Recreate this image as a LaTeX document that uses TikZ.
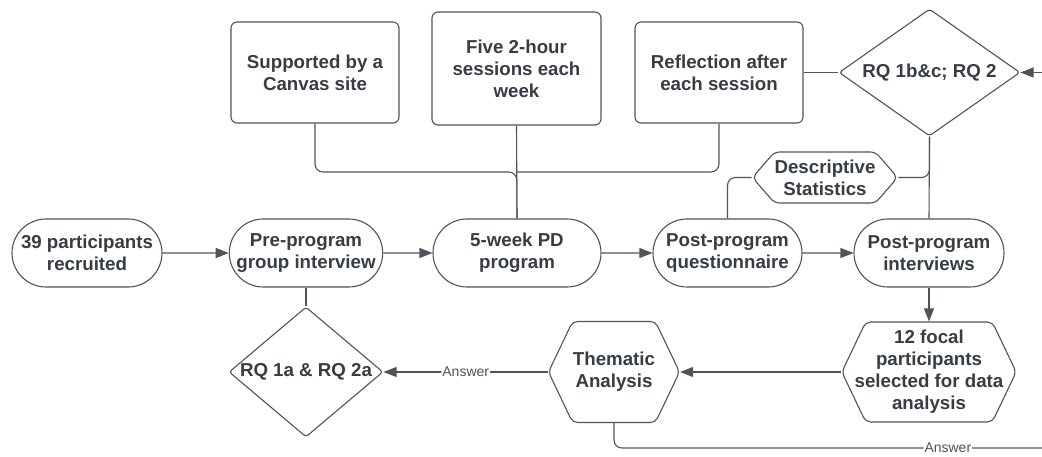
\documentclass[tikz,border=0pt]{standalone}
\usepackage{fontspec}
\setmainfont{Liberation Sans}
\usepackage{tikz}
\usetikzlibrary{shapes.geometric,shapes.misc,shapes.symbols,arrows.meta,calc}
\definecolor{ink}{HTML}{373C45}
\definecolor{edge}{HTML}{505359}
\tikzstyle{flowtext} = [font=\bfseries\fontsize{18.7}{22}\selectfont, text=ink,
    align=center, draw=edge, line width=1.1pt, fill=white]
\tikzstyle{notebox} = [flowtext, rectangle, rounded corners=6pt,
    minimum width=168pt, minimum height=101pt]
\tikzstyle{stepbox} = [flowtext, rounded rectangle, inner sep=1pt,
    minimum width=152pt, minimum height=68pt]
\tikzstyle{rqbox} = [flowtext, diamond, rounded corners=3pt, inner sep=0pt]
\tikzstyle{hexbox} = [flowtext, signal, signal to=east and west,
    rounded corners=5pt, inner sep=0pt]
\tikzstyle{link} = [draw=edge, line width=1.1pt, rounded corners=8pt]
\tikzstyle{arrow} = [link, -{Triangle[length=13pt,width=10pt]}]
\tikzstyle{answer} = [font=\fontsize{14}{16}\selectfont, text=edge,
    fill=white, inner sep=1pt]

\begin{document}
\begin{tikzpicture}[x=1pt, y=-1pt]
\useasboundingbox (0,0) rectangle (1042,457);

% top row: features of the program
\node [notebox] (canvas) at (315,72.5) {Supported by a\\Canvas site};
\node [notebox, minimum width=169pt, minimum height=113pt] (sessions) at (516.5,68.5)
    {Five 2-hour\\sessions each\\week};
\node [notebox] (reflect) at (719,72.5) {Reflection after\\each session};
\node [rqbox, aspect=1.43, minimum width=181pt, minimum height=127pt] (rqb)
    at (929.5,72.5) {RQ 1b\&c; RQ 2};

% middle row: the study steps
\node [stepbox] (recruit) at (87,253) {39 participants\\recruited};
\node [stepbox] (preint) at (306,253) {Pre-program\\group interview};
\node [stepbox, minimum width=170pt] (pd) at (517,253) {5-week PD\\program};
\node [stepbox, minimum width=151pt] (quest) at (727.5,253) {Post-program\\questionnaire};
\node [stepbox] (postint) at (929,253) {Post-program\\interviews};

% analysis
\node [hexbox, minimum width=140pt, minimum height=51pt, signal pointer angle=98]
    (descr) at (825,177.5) {Descriptive\\Statistics};
\node [hexbox, inner xsep=-11pt, minimum width=168pt, minimum height=100pt,
    signal pointer angle=129] (focal) at (929,372)
    {12 focal\\participants\\selected for data\\analysis};
\node [hexbox, minimum width=131pt, minimum height=101pt, signal pointer angle=129]
    (thematic) at (614,372) {Thematic\\Analysis};
\node [rqbox, aspect=1.18, minimum width=154pt, minimum height=130pt] (rqa)
    at (306,372) {RQ 1a \& RQ 2a};

\coordinate (hub) at ($(sessions.south)!0.5!(pd.north)$);
\coordinate (loopout) at (1042,448);
\coordinate (loopin) at (1042,72.5);

% connectors
\draw [link] (canvas.south) |- (hub) -- (pd.north);
\draw [link] (reflect.south) |- (hub);
\draw [link] (sessions.south) -- (pd.north);
\draw [link] (reflect.east) -- (rqb.west);
\draw [arrow] (loopin) -- (rqb.east);
\draw [link] (quest.north) |- (descr.west);
\draw [link] (descr.east) -| (rqb.south);
\draw [link] (rqb.south) -- (postint.north);
\draw [arrow] (recruit) -- (preint);
\draw [arrow] (preint) -- (pd);
\draw [arrow] (pd) -- (quest);
\draw [arrow] (quest) -- (postint);
\draw [link] (preint.south) -- (rqa.north);
\draw [arrow] (postint.south) -- (focal.north);
\draw [arrow] (focal.west) -- (thematic.east);
\draw [arrow] (thematic.west) -- node[answer] {Answer} (rqa.east);
\draw [link] (thematic.south) |- node[answer, pos=0.89] {Answer} (loopout);
\end{tikzpicture}
\end{document}
